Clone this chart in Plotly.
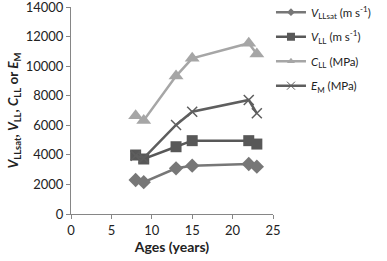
import plotly.graph_objects as go

ages = [8, 9, 13, 15, 22, 23]
v_llsat = [2300, 2150, 3090, 3270, 3380, 3200]
v_ll = [3990, 3720, 4550, 4960, 4960, 4730]
c_ll = [6650, 6330, 9330, 10530, 11550, 10820]
e_m = [3950, 3780, 6020, 6920, 7710, 6810]

y_ticks = [0, 2000, 4000, 6000, 8000, 10000, 12000, 14000]
y_ticktext = ["0", "2000", "4000", "6000", "8000", "10000", "12000", "14000"]
x_ticks = [0, 5, 10, 15, 20, 25]

names = [
    "<i>V</i><sub>LLsat</sub> (m s<sup>-1</sup>)",
    "<i>V</i><sub>LL</sub> (m s<sup>-1</sup>)",
    "<i>C</i><sub>LL</sub> (MPa)",
    "<i>E</i><sub>M</sub> (MPa)",
]
series = [v_llsat, v_ll, c_ll, e_m]
colors = ["#777777", "#585858", "#a6a6a6", "#5e5e5e"]
symbols = ["diamond", "square", "triangle-up", "x-thin"]
sizes = [11, 11, 13, 10]
leg_sizes = [6, 8, 7, 8]

fig = go.Figure()
for s, n, c, sym, sz in zip(series, names, colors, symbols, sizes):
    fig.add_trace(go.Scatter(x=ages, y=s, name=n, mode="lines+markers", showlegend=False,
                             line=dict(color=c, width=2.5),
                             marker=dict(symbol=sym, size=sz, color=c,
                                         line=dict(color=c, width=1.5 if sym == "x-thin" else 0))))
for i, (n, c, sym, sz) in enumerate(zip(names, colors, symbols, leg_sizes)):
    fig.add_trace(go.Scatter(x=[None], y=[None], name=n, mode="lines+markers",
                             legendgroup=f"g{i}",
                             line=dict(color=c, width=2.5),
                             marker=dict(symbol=sym, size=sz, color=c,
                                         line=dict(color=c, width=1 if sym == "x-thin" else 0))))

fig.update_layout(
    width=387, height=261,
    margin=dict(l=71, r=114, t=7, b=47, autoexpand=False),
    paper_bgcolor="white", plot_bgcolor="white",
    font=dict(family="Lato, Open Sans, sans-serif", size=12, color="#222222"),
    showlegend=True,
    legend=dict(x=0.99, y=1.045, xanchor="left", yanchor="top",
                font=dict(size=11.5), tracegroupgap=5.5, itemwidth=30,
                bgcolor="rgba(0,0,0,0)"),
    xaxis=dict(range=[0, 25], tickvals=x_ticks, showline=True, automargin=False,
               linecolor="#868686", linewidth=1, ticks="outside", ticklen=4,
               tickcolor="#868686", showgrid=False, zeroline=False,
               tickfont=dict(size=13),
               title=dict(text="<b>Ages (years)</b>", font=dict(size=14), standoff=4)),
    yaxis=dict(range=[0, 14000], tickvals=y_ticks, ticktext=y_ticktext, showline=True,
               automargin=False, ticklabeloverflow="allow",
               linecolor="#868686", linewidth=1, ticks="outside", ticklen=4,
               tickcolor="#868686", showgrid=False, zeroline=False,
               tickfont=dict(size=13),
               title=dict(text="<b><i>V</i><sub>LLsat</sub>, <i>V</i><sub>LL</sub>, <i>C</i><sub>LL</sub> or <i>E</i><sub>M</sub></b>",
                          font=dict(size=13.5), standoff=3)),
)

fig.write_html("out.html", config={"displayModeBar": False},
               post_script="document.body.style.margin='0';")
